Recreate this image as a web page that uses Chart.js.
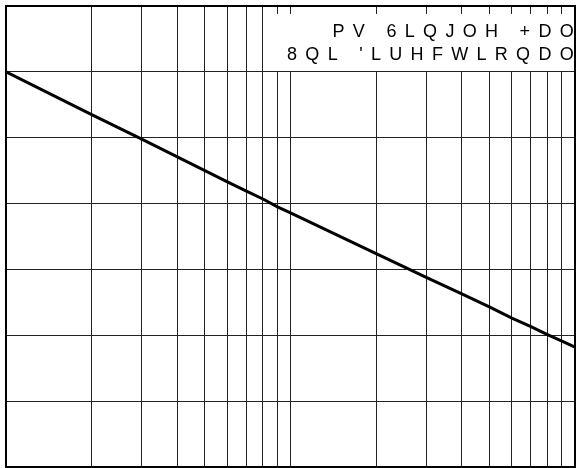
<!DOCTYPE html>
<html>
<head>
<meta charset="utf-8">
<script src="https://cdn.jsdelivr.net/npm/chart.js@4/dist/chart.umd.min.js"></script>
<style>
html,body{margin:0;padding:0;background:#fff;}
#wrap{width:577px;height:468px;}
</style>
</head>
<body>
<div id="wrap"><canvas id="c" width="577" height="468"></canvas></div>
<script>
const xValues = [1,2,3,4,5,6,7,8,9,10,20,30,40,50,60,70,80,90,100];
const yValues = [6.00,5.35,4.98,4.71,4.50,4.33,4.19,4.07,3.95,3.86,3.24,2.88,2.63,2.43,2.26,2.13,2.01,1.91,1.82];
const legendLines = ["PV 6LQJOH +DO", "8QL 'LUHFWLRQDO"];

const textBox = {
  id: 'textBox',
  afterDraw(chart) {
    const ctx = chart.ctx, a = chart.chartArea;
    ctx.save();
    ctx.fillStyle = '#fff';
    ctx.fillRect(a.right - 304, a.top + 8, 304, 57);
    ctx.fillStyle = '#000';
    ctx.font = "18px 'Liberation Sans', Arial, sans-serif";
    ctx.letterSpacing = '8.3px';
    ctx.textAlign = 'right';
    ctx.textBaseline = 'alphabetic';
    ctx.fillText(legendLines[0], a.right + 7, a.top + 31);
    ctx.fillText(legendLines[1], a.right + 7, a.top + 54);
    ctx.restore();
    ctx.save();
    ctx.strokeStyle = '#000';
    ctx.lineWidth = 2;
    ctx.strokeRect(a.left, a.top, a.right - a.left, a.bottom - a.top);
    ctx.restore();
  }
};

new Chart(document.getElementById('c'), {
  type: 'line',
  data: {
    datasets: [{
      data: xValues.map((x, i) => ({x: x, y: yValues[i]})),
      borderColor: '#000',
      borderWidth: 3,
      pointRadius: 0,
      tension: 0,
      fill: false
    }]
  },
  options: {
    responsive: false,
    animation: false,
    devicePixelRatio: 1,
    layout: {padding: {left: 6, top: 6, right: 2, bottom: 1}},
    plugins: {legend: {display: false}, tooltip: {enabled: false}},
    scales: {
      x: {
        type: 'logarithmic', min: 1, max: 100,
        afterBuildTicks: (s) => { s.ticks = xValues.map(v => ({value: v})); },
        ticks: {display: false},
        grid: {color: '#222', lineWidth: 1, drawTicks: false},
        border: {display: false}
      },
      y: {
        type: 'linear', min: 0, max: 7,
        ticks: {display: false, stepSize: 1},
        grid: {color: '#222', lineWidth: 1, drawTicks: false},
        border: {display: false}
      }
    }
  },
  plugins: [textBox]
});
</script>
</body>
</html>
